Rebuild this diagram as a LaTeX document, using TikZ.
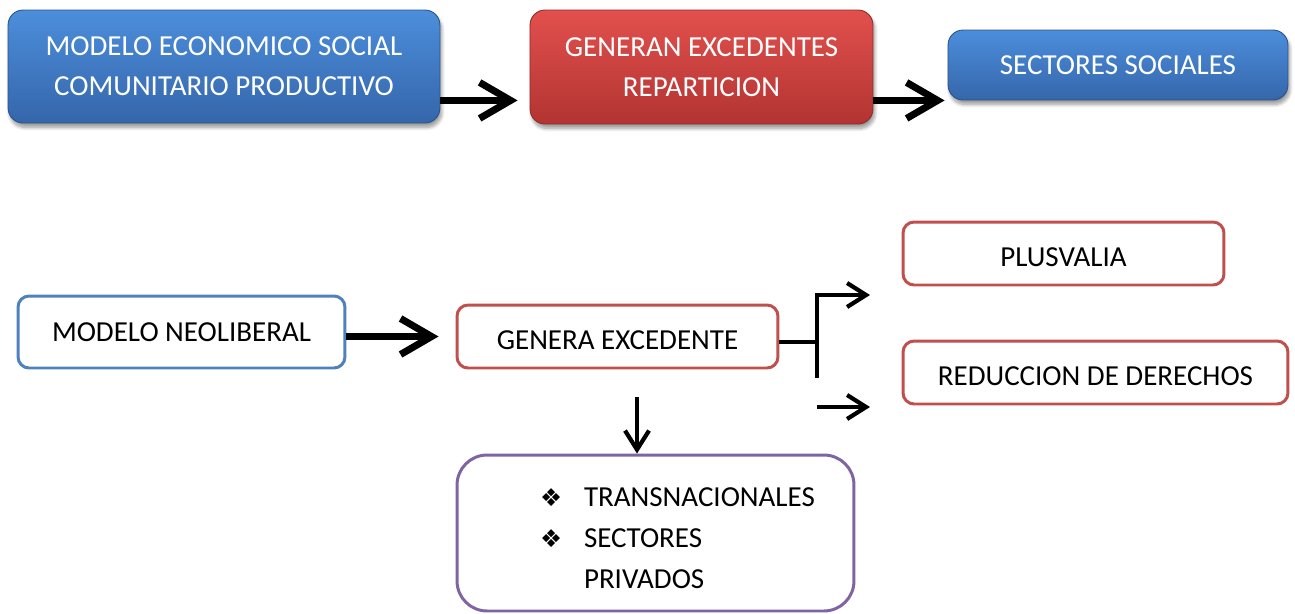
\documentclass[tikz,border=0pt]{standalone}
\usepackage{fontspec}
\setmainfont{Carlito}
\newfontfamily\symfont{DejaVu Sans}
\usepackage{xcolor}
\usetikzlibrary{arrows.meta,calc,shadows.blur}
\definecolor{glossblueT}{HTML}{4C8EDC}
\definecolor{glossblueB}{HTML}{3566AA}
\definecolor{glossredT}{HTML}{E2504D}
\definecolor{glossredB}{HTML}{B23432}
\definecolor{lineblue}{HTML}{4F81BD}
\definecolor{linered}{HTML}{C0504D}
\definecolor{linepurple}{HTML}{8064A2}
\newcommand{\itembullet}{\makebox[0.88cm][l]{\symfont\fontsize{14}{14}\selectfont ❖}}
\tikzset{
	glossy/.style={
			rounded corners=0.3cm, draw=#1B!80!black, line width=0.5pt,
			top color=#1T, bottom color=#1B, text=white,
			blur shadow={shadow xshift=1pt, shadow yshift=-2.5pt, shadow blur steps=8},
			align=center, font=\fontsize{16.5}{22.8}\selectfont
		},
	outlined/.style={
			rounded corners=0.22cm, draw=#1, line width=1.7pt, fill=white,
			align=center, font=\fontsize{16.5}{22.8}\selectfont
		},
	lowtext/.style={text height=15.2pt, text depth=0pt},
	bigarrow/.style={
			line width=4pt, -{Straight Barb[length=0.62cm,width=0.72cm,line width=4pt]}
		},
	smallarrow/.style={
			line width=2.4pt, -{Straight Barb[length=0.38cm,width=0.48cm,line width=2.4pt]}
		},
	fork/.style={line width=2.4pt}
}

\begin{document}
\begin{tikzpicture}[x=0.02cm, y=-0.02cm]
	\useasboundingbox (0,0) rectangle (1295,613);

	% top row
	\node[glossy=glossblue, minimum width=8.64cm, minimum height=2.26cm] (social) at (224,66.5)
		{MODELO ECONOMICO SOCIAL\\COMUNITARIO PRODUCTIVO};
	\node[glossy=glossred, minimum width=6.86cm, minimum height=2.28cm] (excedentes) at (701.5,67)
		{GENERAN EXCEDENTES\\REPARTICION};
	\node[glossy=glossblue, minimum width=6.8cm, minimum height=1.4cm] (sectores) at (1118,65)
		{SECTORES SOCIALES};

	\draw[bigarrow, shorten >=12*0.02cm] (social.east |- sectores.south) -- (excedentes.west |- sectores.south);
	\draw[bigarrow, shorten >=3*0.02cm] (excedentes.east |- sectores.south) -- (sectores.south west);

	% bottom part
	\node[outlined=lineblue, minimum width=6.54cm, minimum height=1.44cm] (neoliberal) at (181.5,332)
		{MODELO NEOLIBERAL};
	\node[outlined=linered, lowtext, minimum width=6.42cm, minimum height=1.26cm] (genera) at (617.5,336.5)
		{GENERA EXCEDENTE};
	\node[outlined=linered, lowtext, minimum width=6.42cm, minimum height=1.26cm] (plusvalia) at (1063.5,253.5)
		{PLUSVALIA};
	\node[outlined=linered, lowtext, minimum width=7.7cm, minimum height=1.26cm] (derechos) at (1095.5,372.5)
		{REDUCCION DE DERECHOS};
	\node[outlined=linepurple, rounded corners=0.6cm, text width=7.94cm, inner xsep=0pt,
		minimum height=3.12cm, align=left, font=\fontsize{16.5}{23.3}\selectfont] (privados) at (655.5,533)
		{\rule{0pt}{17pt}\hspace*{1.66cm}\itembullet TRANSNACIONALES\\
		 \hspace*{1.66cm}\itembullet SECTORES\\
		 \hspace*{2.54cm}PRIVADOS};

	\draw[bigarrow, shorten >=17*0.02cm] (neoliberal.east |- genera.west) -- (genera.west);

	\coordinate (forktop) at (817,295);
	\coordinate (forkbot) at (817,378);
	\coordinate (lowstart) at (817,407);
	\coordinate (downstart) at (637,397);
	\draw[fork] (genera.east |- 0,342) -- (forktop |- 0,342);
	\draw[smallarrow] (forkbot) -- (forktop) -- ($(forktop)+(53,0)$);
	\draw[smallarrow] (lowstart) -- ($(lowstart)+(53,0)$);
	\draw[smallarrow] (downstart) -- (downstart |- privados.north);
\end{tikzpicture}
\end{document}
